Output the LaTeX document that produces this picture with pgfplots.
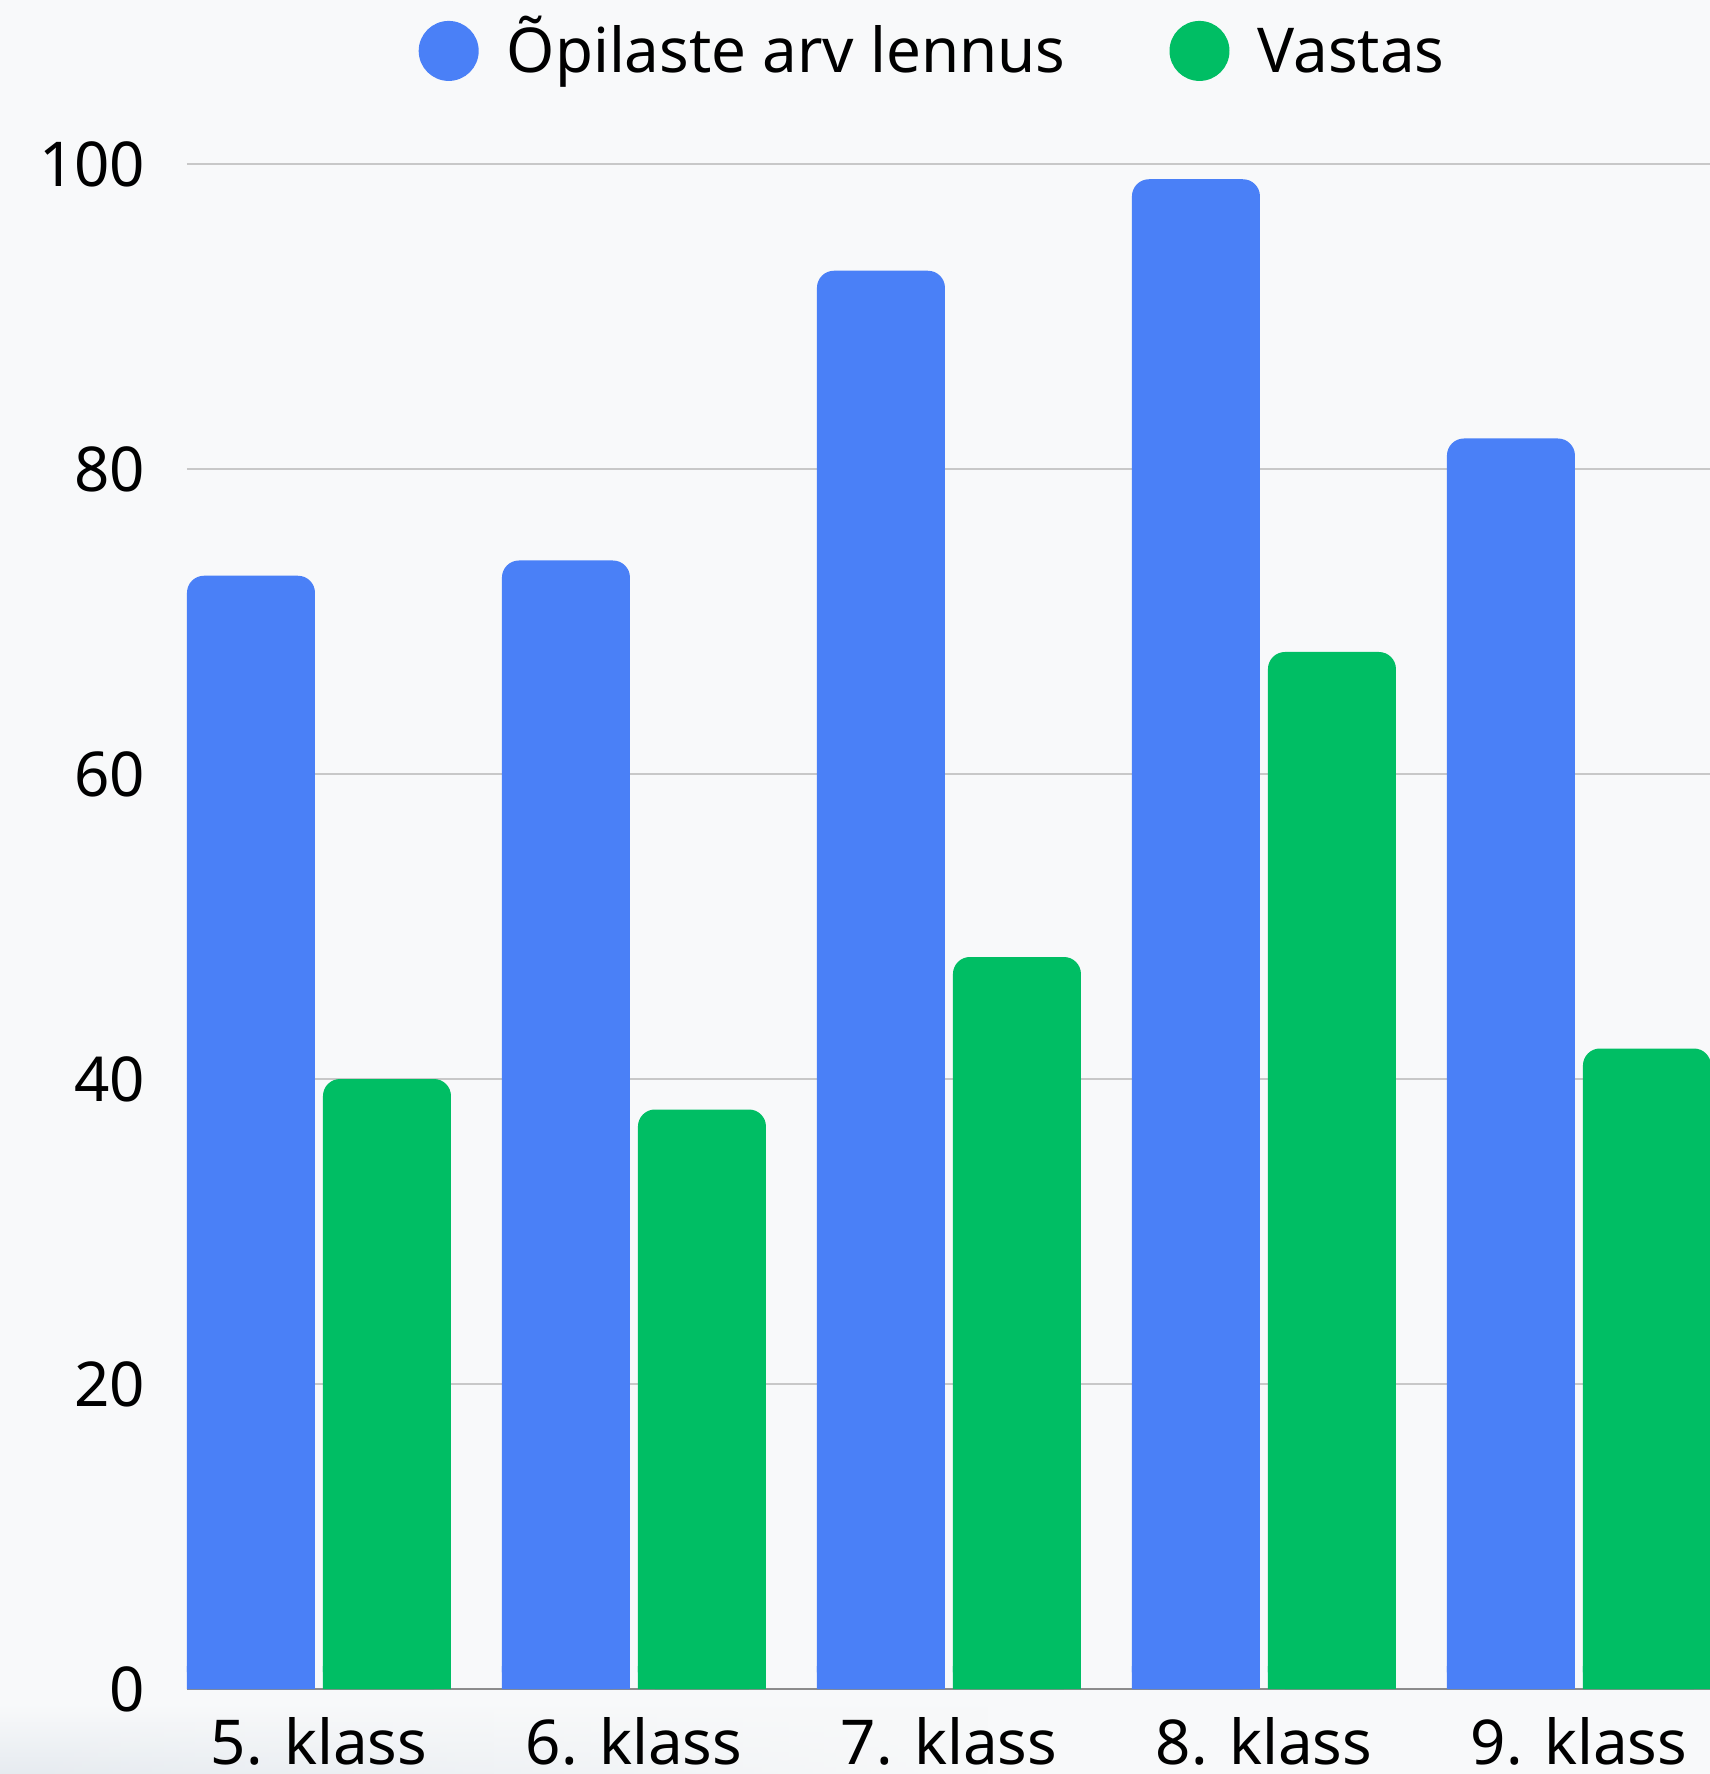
\documentclass[border=0pt]{standalone}
\usepackage{fontspec}
\setmainfont{Noto Sans}
\usepackage{pgfplots}
\pgfplotsset{compat=1.18}
\usetikzlibrary{fadings}
\definecolor{blueC}{HTML}{4A80F7}
\definecolor{greenC}{HTML}{00BE64}
\definecolor{bgC}{HTML}{F8F9FA}
\definecolor{bandC}{HTML}{E6EBF0}
\definecolor{gridC}{HTML}{C8C8C8}
\definecolor{baseC}{HTML}{8C8C8C}
\pgfplotstableread{
x blue green
0 73 40
1 74 38
2 93 48
3 99 68
4 82 42
}\datatable
\pgfplotsset{
 common/.style={
  at={(0,0)}, anchor=south west,
  scale only axis, width=152.3mm,
  xmin=-0.419, xmax=4.416, ymin=0,
  ybar, bar width=12.8mm,
  clip=true,
 }
}
\begin{document}
\begin{tikzpicture}
\fill[bgC] (-18.7mm,-8.5mm) rectangle (152.3mm,168.9mm);
\shade[top color=bgC, bottom color=bandC, path fading=east] (-18.7mm,-8.5mm) rectangle (80mm,-1.5mm);
\begin{axis}[
 common,
 height=152.5mm, ymax=100,
 xtick={0,1,2,3,4}, xticklabels={5. klass,6. klass,7. klass,8. klass,9. klass},
 ytick={20,40,60,80,100}, yticklabels={20,40,60,80,100},
 extra y ticks={0}, extra y tick labels={0},
 extra y tick style={grid style={draw=baseC, line width=0.25mm}},
 major tick length=0pt,
 axis line style={draw=none},
 ymajorgrids, grid style={gridC, line width=0.2mm},
 font=\fontsize{17.6}{21}\selectfont,
 xticklabel style={anchor=base, inner sep=0pt, yshift=-7.5mm},
 yticklabel style={anchor=east, inner sep=0pt, xshift=-4.1mm},
 legend columns=2,
 legend style={at={(0.15167,1.0712)}, anchor=base west, draw=none, fill=none,
   inner sep=0pt, nodes={inner sep=0pt, text height=5mm, text depth=1.5mm},
   /tikz/every odd column/.append style={column sep=2.8mm},
   /tikz/every even column/.append style={column sep=10.4mm}},
]
\addplot[fill=blueC, draw=none, bar shift=-6.8mm, rounded corners=1.7mm,
  legend image code/.code={\fill[blueC] (3mm,0.45mm) circle[radius=3mm];}]
  table[x=x, y=blue] {\datatable};
\addlegendentry{Õpilaste arv lennus}
\addplot[fill=greenC, draw=none, bar shift=6.8mm, rounded corners=1.7mm,
  legend image code/.code={\fill[greenC] (3mm,0.45mm) circle[radius=3mm];}]
  table[x=x, y=green] {\datatable};
\addlegendentry{Vastas}
\end{axis}
% square-cornered bottoms of the same bars (clipped at y = 1.5)
\begin{axis}[
 common,
 height=2.2875mm, ymax=1.5,
 hide axis,
]
\addplot[fill=blueC, draw=none, bar shift=-6.8mm] table[x=x, y=blue] {\datatable};
\addplot[fill=greenC, draw=none, bar shift=6.8mm] table[x=x, y=green] {\datatable};
\end{axis}
\pgfresetboundingbox
\path[use as bounding box] (-18.7mm,-8.5mm) rectangle (152.3mm,168.9mm);
\end{tikzpicture}
\end{document}
